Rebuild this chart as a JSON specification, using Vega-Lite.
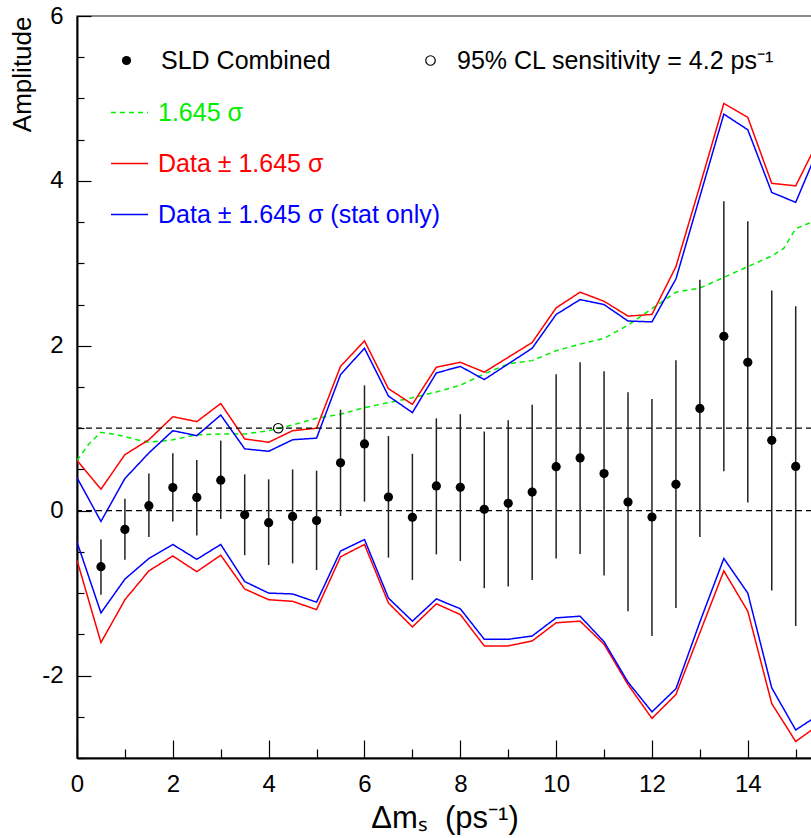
{
  "$schema": "https://vega.github.io/schema/vega-lite/v6.json",
  "description": "SLD combined amplitude spectrum versus delta m_s with 1.645 sigma bands",
  "width": 735,
  "height": 742,
  "autosize": {"type": "none"},
  "padding": {"left": 77, "top": 16, "right": 0, "bottom": 80},
  "background": "white",
  "config": {
    "view": {"stroke": "#666666", "strokeWidth": 1.5},
    "font": "Liberation Sans",
    "axis": {
      "grid": false,
      "labelFont": "Liberation Sans",
      "titleFont": "Liberation Sans",
      "labelColor": "black",
      "titleColor": "black",
      "domainColor": "black",
      "domainWidth": 2,
      "tickColor": "black",
      "tickWidth": 1.2,
      "labelFlush": false,
      "labelOverlap": false,
      "titleFontWeight": "normal"
    },
    "legend": {"labelFont": "Liberation Sans", "labelFontSize": 25, "padding": 0, "labelLimit": 600}
  },
  "datasets": {
    "levels": [{"level": 0}, {"level": 1}],
    "points": [
      {"dms": 0.5, "amp": -0.68, "lo": -1.02, "hi": -0.35},
      {"dms": 1.0, "amp": -0.227, "lo": -0.595, "hi": 0.145},
      {"dms": 1.5, "amp": 0.06, "lo": -0.32, "hi": 0.45},
      {"dms": 2.0, "amp": 0.28, "lo": -0.13, "hi": 0.695},
      {"dms": 2.5, "amp": 0.16, "lo": -0.30, "hi": 0.614},
      {"dms": 3.0, "amp": 0.37, "lo": -0.10, "hi": 0.85},
      {"dms": 3.5, "amp": -0.05, "lo": -0.54, "hi": 0.44},
      {"dms": 4.0, "amp": -0.146, "lo": -0.66, "hi": 0.38},
      {"dms": 4.5, "amp": -0.07, "lo": -0.64, "hi": 0.50},
      {"dms": 5.0, "amp": -0.12, "lo": -0.72, "hi": 0.485},
      {"dms": 5.5, "amp": 0.58, "lo": -0.065, "hi": 1.225},
      {"dms": 6.0, "amp": 0.81, "lo": 0.11, "hi": 1.52},
      {"dms": 6.5, "amp": 0.165, "lo": -0.57, "hi": 0.905},
      {"dms": 7.0, "amp": -0.08, "lo": -0.84, "hi": 0.69},
      {"dms": 7.5, "amp": 0.30, "lo": -0.53, "hi": 1.12},
      {"dms": 8.0, "amp": 0.283, "lo": -0.61, "hi": 1.17},
      {"dms": 8.5, "amp": 0.016, "lo": -0.94, "hi": 0.96},
      {"dms": 9.0, "amp": 0.089, "lo": -0.92, "hi": 1.096},
      {"dms": 9.5, "amp": 0.226, "lo": -0.84, "hi": 1.286},
      {"dms": 10.0, "amp": 0.534, "lo": -0.58, "hi": 1.654},
      {"dms": 10.5, "amp": 0.64, "lo": -0.527, "hi": 1.80},
      {"dms": 11.0, "amp": 0.45, "lo": -0.785, "hi": 1.69},
      {"dms": 11.5, "amp": 0.105, "lo": -1.22, "hi": 1.435},
      {"dms": 12.0, "amp": -0.077, "lo": -1.52, "hi": 1.355},
      {"dms": 12.5, "amp": 0.32, "lo": -1.18, "hi": 1.824},
      {"dms": 13.0, "amp": 1.24, "lo": -0.32, "hi": 2.80},
      {"dms": 13.5, "amp": 2.115, "lo": 0.477, "hi": 3.754},
      {"dms": 14.0, "amp": 1.80, "lo": 0.10, "hi": 3.51},
      {"dms": 14.5, "amp": 0.853, "lo": -0.967, "hi": 2.67},
      {"dms": 15.0, "amp": 0.537, "lo": -1.40, "hi": 2.48}
    ],
    "sensitivity": [{"dms": 4.2, "amp": 1.0}],
    "bands": [
      {"dms": 0, "v": 0.61, "series": "1.645 σ", "side": "up"},
      {"dms": 0.25, "v": 0.81, "series": "1.645 σ", "side": "up"},
      {"dms": 0.5, "v": 0.95, "series": "1.645 σ", "side": "up"},
      {"dms": 0.75, "v": 0.93, "series": "1.645 σ", "side": "up"},
      {"dms": 1.0, "v": 0.90, "series": "1.645 σ", "side": "up"},
      {"dms": 1.25, "v": 0.86, "series": "1.645 σ", "side": "up"},
      {"dms": 1.5, "v": 0.83, "series": "1.645 σ", "side": "up"},
      {"dms": 2.0, "v": 0.86, "series": "1.645 σ", "side": "up"},
      {"dms": 2.5, "v": 0.92, "series": "1.645 σ", "side": "up"},
      {"dms": 3.0, "v": 0.93, "series": "1.645 σ", "side": "up"},
      {"dms": 3.5, "v": 0.93, "series": "1.645 σ", "side": "up"},
      {"dms": 4.0, "v": 0.97, "series": "1.645 σ", "side": "up"},
      {"dms": 4.5, "v": 1.04, "series": "1.645 σ", "side": "up"},
      {"dms": 5.0, "v": 1.12, "series": "1.645 σ", "side": "up"},
      {"dms": 5.5, "v": 1.17, "series": "1.645 σ", "side": "up"},
      {"dms": 6.0, "v": 1.25, "series": "1.645 σ", "side": "up"},
      {"dms": 6.5, "v": 1.31, "series": "1.645 σ", "side": "up"},
      {"dms": 7.0, "v": 1.37, "series": "1.645 σ", "side": "up"},
      {"dms": 7.5, "v": 1.44, "series": "1.645 σ", "side": "up"},
      {"dms": 8.0, "v": 1.52, "series": "1.645 σ", "side": "up"},
      {"dms": 8.5, "v": 1.66, "series": "1.645 σ", "side": "up"},
      {"dms": 9.0, "v": 1.78, "series": "1.645 σ", "side": "up"},
      {"dms": 9.5, "v": 1.82, "series": "1.645 σ", "side": "up"},
      {"dms": 10.0, "v": 1.94, "series": "1.645 σ", "side": "up"},
      {"dms": 10.5, "v": 2.02, "series": "1.645 σ", "side": "up"},
      {"dms": 11.0, "v": 2.09, "series": "1.645 σ", "side": "up"},
      {"dms": 11.5, "v": 2.25, "series": "1.645 σ", "side": "up"},
      {"dms": 12.0, "v": 2.45, "series": "1.645 σ", "side": "up"},
      {"dms": 12.5, "v": 2.65, "series": "1.645 σ", "side": "up"},
      {"dms": 13.0, "v": 2.70, "series": "1.645 σ", "side": "up"},
      {"dms": 13.5, "v": 2.83, "series": "1.645 σ", "side": "up"},
      {"dms": 14.0, "v": 2.96, "series": "1.645 σ", "side": "up"},
      {"dms": 14.5, "v": 3.09, "series": "1.645 σ", "side": "up"},
      {"dms": 14.75, "v": 3.18, "series": "1.645 σ", "side": "up"},
      {"dms": 15.0, "v": 3.42, "series": "1.645 σ", "side": "up"},
      {"dms": 15.5, "v": 3.54, "series": "1.645 σ", "side": "up"},

      {"dms": 0, "v": 0.61, "series": "Data ± 1.645 σ", "side": "up"},
      {"dms": 0.5, "v": 0.26, "series": "Data ± 1.645 σ", "side": "up"},
      {"dms": 1.0, "v": 0.68, "series": "Data ± 1.645 σ", "side": "up"},
      {"dms": 1.5, "v": 0.86, "series": "Data ± 1.645 σ", "side": "up"},
      {"dms": 2.0, "v": 1.14, "series": "Data ± 1.645 σ", "side": "up"},
      {"dms": 2.5, "v": 1.08, "series": "Data ± 1.645 σ", "side": "up"},
      {"dms": 3.0, "v": 1.30, "series": "Data ± 1.645 σ", "side": "up"},
      {"dms": 3.5, "v": 0.87, "series": "Data ± 1.645 σ", "side": "up"},
      {"dms": 4.0, "v": 0.83, "series": "Data ± 1.645 σ", "side": "up"},
      {"dms": 4.5, "v": 0.97, "series": "Data ± 1.645 σ", "side": "up"},
      {"dms": 5.0, "v": 1.00, "series": "Data ± 1.645 σ", "side": "up"},
      {"dms": 5.5, "v": 1.75, "series": "Data ± 1.645 σ", "side": "up"},
      {"dms": 6.0, "v": 2.06, "series": "Data ± 1.645 σ", "side": "up"},
      {"dms": 6.5, "v": 1.48, "series": "Data ± 1.645 σ", "side": "up"},
      {"dms": 7.0, "v": 1.29, "series": "Data ± 1.645 σ", "side": "up"},
      {"dms": 7.5, "v": 1.74, "series": "Data ± 1.645 σ", "side": "up"},
      {"dms": 8.0, "v": 1.80, "series": "Data ± 1.645 σ", "side": "up"},
      {"dms": 8.5, "v": 1.68, "series": "Data ± 1.645 σ", "side": "up"},
      {"dms": 9.0, "v": 1.86, "series": "Data ± 1.645 σ", "side": "up"},
      {"dms": 9.5, "v": 2.04, "series": "Data ± 1.645 σ", "side": "up"},
      {"dms": 10.0, "v": 2.46, "series": "Data ± 1.645 σ", "side": "up"},
      {"dms": 10.5, "v": 2.65, "series": "Data ± 1.645 σ", "side": "up"},
      {"dms": 11.0, "v": 2.54, "series": "Data ± 1.645 σ", "side": "up"},
      {"dms": 11.5, "v": 2.36, "series": "Data ± 1.645 σ", "side": "up"},
      {"dms": 12.0, "v": 2.38, "series": "Data ± 1.645 σ", "side": "up"},
      {"dms": 12.5, "v": 2.96, "series": "Data ± 1.645 σ", "side": "up"},
      {"dms": 13.0, "v": 3.94, "series": "Data ± 1.645 σ", "side": "up"},
      {"dms": 13.5, "v": 4.94, "series": "Data ± 1.645 σ", "side": "up"},
      {"dms": 14.0, "v": 4.77, "series": "Data ± 1.645 σ", "side": "up"},
      {"dms": 14.5, "v": 3.97, "series": "Data ± 1.645 σ", "side": "up"},
      {"dms": 15.0, "v": 3.94, "series": "Data ± 1.645 σ", "side": "up"},
      {"dms": 15.5, "v": 4.52, "series": "Data ± 1.645 σ", "side": "up"},

      {"dms": 0, "v": -0.60, "series": "Data ± 1.645 σ", "side": "low"},
      {"dms": 0.5, "v": -1.60, "series": "Data ± 1.645 σ", "side": "low"},
      {"dms": 1.0, "v": -1.08, "series": "Data ± 1.645 σ", "side": "low"},
      {"dms": 1.5, "v": -0.73, "series": "Data ± 1.645 σ", "side": "low"},
      {"dms": 2.0, "v": -0.55, "series": "Data ± 1.645 σ", "side": "low"},
      {"dms": 2.5, "v": -0.74, "series": "Data ± 1.645 σ", "side": "low"},
      {"dms": 3.0, "v": -0.54, "series": "Data ± 1.645 σ", "side": "low"},
      {"dms": 3.5, "v": -0.95, "series": "Data ± 1.645 σ", "side": "low"},
      {"dms": 4.0, "v": -1.08, "series": "Data ± 1.645 σ", "side": "low"},
      {"dms": 4.5, "v": -1.10, "series": "Data ± 1.645 σ", "side": "low"},
      {"dms": 5.0, "v": -1.20, "series": "Data ± 1.645 σ", "side": "low"},
      {"dms": 5.5, "v": -0.56, "series": "Data ± 1.645 σ", "side": "low"},
      {"dms": 6.0, "v": -0.41, "series": "Data ± 1.645 σ", "side": "low"},
      {"dms": 6.5, "v": -1.12, "series": "Data ± 1.645 σ", "side": "low"},
      {"dms": 7.0, "v": -1.41, "series": "Data ± 1.645 σ", "side": "low"},
      {"dms": 7.5, "v": -1.13, "series": "Data ± 1.645 σ", "side": "low"},
      {"dms": 8.0, "v": -1.26, "series": "Data ± 1.645 σ", "side": "low"},
      {"dms": 8.5, "v": -1.64, "series": "Data ± 1.645 σ", "side": "low"},
      {"dms": 9.0, "v": -1.64, "series": "Data ± 1.645 σ", "side": "low"},
      {"dms": 9.5, "v": -1.58, "series": "Data ± 1.645 σ", "side": "low"},
      {"dms": 10.0, "v": -1.36, "series": "Data ± 1.645 σ", "side": "low"},
      {"dms": 10.5, "v": -1.34, "series": "Data ± 1.645 σ", "side": "low"},
      {"dms": 11.0, "v": -1.62, "series": "Data ± 1.645 σ", "side": "low"},
      {"dms": 11.5, "v": -2.11, "series": "Data ± 1.645 σ", "side": "low"},
      {"dms": 12.0, "v": -2.52, "series": "Data ± 1.645 σ", "side": "low"},
      {"dms": 12.5, "v": -2.23, "series": "Data ± 1.645 σ", "side": "low"},
      {"dms": 13.0, "v": -1.48, "series": "Data ± 1.645 σ", "side": "low"},
      {"dms": 13.5, "v": -0.73, "series": "Data ± 1.645 σ", "side": "low"},
      {"dms": 14.0, "v": -1.22, "series": "Data ± 1.645 σ", "side": "low"},
      {"dms": 14.5, "v": -2.34, "series": "Data ± 1.645 σ", "side": "low"},
      {"dms": 15.0, "v": -2.80, "series": "Data ± 1.645 σ", "side": "low"},
      {"dms": 15.5, "v": -2.59, "series": "Data ± 1.645 σ", "side": "low"},

      {"dms": 0, "v": 0.40, "series": "Data ± 1.645 σ (stat only)", "side": "up"},
      {"dms": 0.5, "v": -0.13, "series": "Data ± 1.645 σ (stat only)", "side": "up"},
      {"dms": 1.0, "v": 0.39, "series": "Data ± 1.645 σ (stat only)", "side": "up"},
      {"dms": 1.5, "v": 0.70, "series": "Data ± 1.645 σ (stat only)", "side": "up"},
      {"dms": 2.0, "v": 0.97, "series": "Data ± 1.645 σ (stat only)", "side": "up"},
      {"dms": 2.5, "v": 0.91, "series": "Data ± 1.645 σ (stat only)", "side": "up"},
      {"dms": 3.0, "v": 1.16, "series": "Data ± 1.645 σ (stat only)", "side": "up"},
      {"dms": 3.5, "v": 0.75, "series": "Data ± 1.645 σ (stat only)", "side": "up"},
      {"dms": 4.0, "v": 0.72, "series": "Data ± 1.645 σ (stat only)", "side": "up"},
      {"dms": 4.5, "v": 0.86, "series": "Data ± 1.645 σ (stat only)", "side": "up"},
      {"dms": 5.0, "v": 0.88, "series": "Data ± 1.645 σ (stat only)", "side": "up"},
      {"dms": 5.5, "v": 1.65, "series": "Data ± 1.645 σ (stat only)", "side": "up"},
      {"dms": 6.0, "v": 1.97, "series": "Data ± 1.645 σ (stat only)", "side": "up"},
      {"dms": 6.5, "v": 1.39, "series": "Data ± 1.645 σ (stat only)", "side": "up"},
      {"dms": 7.0, "v": 1.19, "series": "Data ± 1.645 σ (stat only)", "side": "up"},
      {"dms": 7.5, "v": 1.67, "series": "Data ± 1.645 σ (stat only)", "side": "up"},
      {"dms": 8.0, "v": 1.75, "series": "Data ± 1.645 σ (stat only)", "side": "up"},
      {"dms": 8.5, "v": 1.59, "series": "Data ± 1.645 σ (stat only)", "side": "up"},
      {"dms": 9.0, "v": 1.78, "series": "Data ± 1.645 σ (stat only)", "side": "up"},
      {"dms": 9.5, "v": 1.97, "series": "Data ± 1.645 σ (stat only)", "side": "up"},
      {"dms": 10.0, "v": 2.38, "series": "Data ± 1.645 σ (stat only)", "side": "up"},
      {"dms": 10.5, "v": 2.56, "series": "Data ± 1.645 σ (stat only)", "side": "up"},
      {"dms": 11.0, "v": 2.50, "series": "Data ± 1.645 σ (stat only)", "side": "up"},
      {"dms": 11.5, "v": 2.30, "series": "Data ± 1.645 σ (stat only)", "side": "up"},
      {"dms": 12.0, "v": 2.29, "series": "Data ± 1.645 σ (stat only)", "side": "up"},
      {"dms": 12.5, "v": 2.81, "series": "Data ± 1.645 σ (stat only)", "side": "up"},
      {"dms": 13.0, "v": 3.81, "series": "Data ± 1.645 σ (stat only)", "side": "up"},
      {"dms": 13.5, "v": 4.81, "series": "Data ± 1.645 σ (stat only)", "side": "up"},
      {"dms": 14.0, "v": 4.62, "series": "Data ± 1.645 σ (stat only)", "side": "up"},
      {"dms": 14.5, "v": 3.86, "series": "Data ± 1.645 σ (stat only)", "side": "up"},
      {"dms": 15.0, "v": 3.74, "series": "Data ± 1.645 σ (stat only)", "side": "up"},
      {"dms": 15.5, "v": 4.43, "series": "Data ± 1.645 σ (stat only)", "side": "up"},

      {"dms": 0, "v": -0.38, "series": "Data ± 1.645 σ (stat only)", "side": "low"},
      {"dms": 0.5, "v": -1.24, "series": "Data ± 1.645 σ (stat only)", "side": "low"},
      {"dms": 1.0, "v": -0.83, "series": "Data ± 1.645 σ (stat only)", "side": "low"},
      {"dms": 1.5, "v": -0.58, "series": "Data ± 1.645 σ (stat only)", "side": "low"},
      {"dms": 2.0, "v": -0.41, "series": "Data ± 1.645 σ (stat only)", "side": "low"},
      {"dms": 2.5, "v": -0.59, "series": "Data ± 1.645 σ (stat only)", "side": "low"},
      {"dms": 3.0, "v": -0.41, "series": "Data ± 1.645 σ (stat only)", "side": "low"},
      {"dms": 3.5, "v": -0.86, "series": "Data ± 1.645 σ (stat only)", "side": "low"},
      {"dms": 4.0, "v": -1.00, "series": "Data ± 1.645 σ (stat only)", "side": "low"},
      {"dms": 4.5, "v": -1.01, "series": "Data ± 1.645 σ (stat only)", "side": "low"},
      {"dms": 5.0, "v": -1.11, "series": "Data ± 1.645 σ (stat only)", "side": "low"},
      {"dms": 5.5, "v": -0.49, "series": "Data ± 1.645 σ (stat only)", "side": "low"},
      {"dms": 6.0, "v": -0.35, "series": "Data ± 1.645 σ (stat only)", "side": "low"},
      {"dms": 6.5, "v": -1.06, "series": "Data ± 1.645 σ (stat only)", "side": "low"},
      {"dms": 7.0, "v": -1.34, "series": "Data ± 1.645 σ (stat only)", "side": "low"},
      {"dms": 7.5, "v": -1.07, "series": "Data ± 1.645 σ (stat only)", "side": "low"},
      {"dms": 8.0, "v": -1.19, "series": "Data ± 1.645 σ (stat only)", "side": "low"},
      {"dms": 8.5, "v": -1.56, "series": "Data ± 1.645 σ (stat only)", "side": "low"},
      {"dms": 9.0, "v": -1.56, "series": "Data ± 1.645 σ (stat only)", "side": "low"},
      {"dms": 9.5, "v": -1.52, "series": "Data ± 1.645 σ (stat only)", "side": "low"},
      {"dms": 10.0, "v": -1.30, "series": "Data ± 1.645 σ (stat only)", "side": "low"},
      {"dms": 10.5, "v": -1.28, "series": "Data ± 1.645 σ (stat only)", "side": "low"},
      {"dms": 11.0, "v": -1.59, "series": "Data ± 1.645 σ (stat only)", "side": "low"},
      {"dms": 11.5, "v": -2.08, "series": "Data ± 1.645 σ (stat only)", "side": "low"},
      {"dms": 12.0, "v": -2.44, "series": "Data ± 1.645 σ (stat only)", "side": "low"},
      {"dms": 12.5, "v": -2.16, "series": "Data ± 1.645 σ (stat only)", "side": "low"},
      {"dms": 13.0, "v": -1.35, "series": "Data ± 1.645 σ (stat only)", "side": "low"},
      {"dms": 13.5, "v": -0.58, "series": "Data ± 1.645 σ (stat only)", "side": "low"},
      {"dms": 14.0, "v": -1.00, "series": "Data ± 1.645 σ (stat only)", "side": "low"},
      {"dms": 14.5, "v": -2.15, "series": "Data ± 1.645 σ (stat only)", "side": "low"},
      {"dms": 15.0, "v": -2.66, "series": "Data ± 1.645 σ (stat only)", "side": "low"},
      {"dms": 15.5, "v": -2.47, "series": "Data ± 1.645 σ (stat only)", "side": "low"}
    ]
  },
  "layer": [
    {
      "data": {"name": "bands"},
      "mark": {"type": "line", "clip": true, "strokeWidth": 1.5},
      "encoding": {
        "x": {
          "field": "dms",
          "type": "quantitative",
          "scale": {"domain": [0, 15.34], "nice": false, "zero": false},
          "axis": {
            "values": [0, 0.5, 1, 1.5, 2, 2.5, 3, 3.5, 4, 4.5, 5, 5.5, 6, 6.5, 7, 7.5, 8, 8.5, 9, 9.5, 10, 10.5, 11, 11.5, 12, 12.5, 13, 13.5, 14, 14.5, 15],
            "labelExpr": "datum.value % 2 === 0 ? '' + datum.value : ''",
            "tickSize": {"condition": {"test": "datum.value % 2 === 0", "value": -18}, "value": -9},
            "labelFontSize": 24,
            "labelPadding": 32,
            "title": "Δmₛ\u00a0 (ps⁻¹)",
            "titleFontSize": 31,
            "titleY": 69,
            "titleBaseline": "alphabetic"
          }
        },
        "y": {
          "field": "v",
          "type": "quantitative",
          "scale": {"domain": [-3, 6], "nice": false, "zero": false},
          "axis": {
            "values": [-3, -2.5, -2, -1.5, -1, -0.5, 0, 0.5, 1, 1.5, 2, 2.5, 3, 3.5, 4, 4.5, 5, 5.5, 6],
            "labelExpr": "datum.value % 2 === 0 ? '' + datum.value : ''",
            "tickSize": {"condition": {"test": "datum.value % 2 === 0", "value": -14}, "value": -7},
            "labelFontSize": 24,
            "labelPadding": 28,
            "title": "Amplitude",
            "titleFontSize": 26,
            "titleAngle": 270,
            "titleAlign": "right",
            "titleBaseline": "alphabetic",
            "titleX": -47,
            "titleY": 0
          }
        },
        "color": {
          "field": "series",
          "type": "nominal",
          "scale": {
            "domain": ["1.645 σ", "Data ± 1.645 σ", "Data ± 1.645 σ (stat only)"],
            "range": ["#00ee00", "#ff0000", "#0000ff"]
          },
          "legend": {
            "orient": "none",
            "legendX": 33,
            "legendY": 77,
            "title": null,
            "symbolType": "stroke",
            "symbolSize": 1369,
            "symbolStrokeWidth": 1.5,
            "rowPadding": 18,
            "labelOffset": 9,
            "labelFontSize": 25,
            "labelExpr": "datum.value === '1.645 σ' ? datum.label : '\u00a0' + datum.label",
            "labelColor": {"expr": "datum.value === '1.645 σ' ? '#00ee00' : datum.value === 'Data ± 1.645 σ' ? '#ff0000' : '#0000ff'"}
          }
        },
        "strokeDash": {
          "field": "series",
          "type": "nominal",
          "scale": {
            "domain": ["1.645 σ", "Data ± 1.645 σ", "Data ± 1.645 σ (stat only)"],
            "range": [[5, 4], [1, 0], [1, 0]]
          },
          "legend": {
            "orient": "none",
            "legendX": 33,
            "legendY": 77,
            "title": null,
            "symbolType": "stroke",
            "symbolSize": 1369,
            "symbolStrokeWidth": 1.5,
            "rowPadding": 18,
            "labelOffset": 9,
            "labelFontSize": 25,
            "labelExpr": "datum.value === '1.645 σ' ? datum.label : '\u00a0' + datum.label",
            "labelColor": {"expr": "datum.value === '1.645 σ' ? '#00ee00' : datum.value === 'Data ± 1.645 σ' ? '#ff0000' : '#0000ff'"}
          }
        },
        "detail": {"field": "side"}
      }
    },
    {
      "data": {"name": "levels"},
      "mark": {"type": "rule", "color": "black", "strokeWidth": 1.2, "strokeDash": [6, 4]},
      "encoding": {"y": {"field": "level", "type": "quantitative"}}
    },
    {
      "data": {"name": "points"},
      "mark": {"type": "rule", "color": "#222222", "strokeWidth": 1.5},
      "encoding": {
        "x": {"field": "dms", "type": "quantitative"},
        "y": {"field": "lo", "type": "quantitative"},
        "y2": {"field": "hi"}
      }
    },
    {
      "data": {"name": "points"},
      "mark": {"type": "point", "filled": true, "color": "black", "size": 85, "opacity": 1},
      "encoding": {
        "x": {"field": "dms", "type": "quantitative"},
        "y": {"field": "amp", "type": "quantitative"},
        "shape": {
          "datum": "SLD Combined",
          "type": "nominal",
          "scale": {"range": ["circle"]},
          "legend": {
            "orient": "none",
            "legendX": 37,
            "legendY": 32,
            "title": null,
            "symbolSize": 85,
            "symbolFillColor": "black",
            "symbolStrokeColor": "black",
            "labelOffset": 22,
            "labelFontSize": 25,
            "labelColor": "black"
          }
        }
      }
    },
    {
      "data": {"name": "sensitivity"},
      "mark": {"type": "point", "filled": false, "strokeWidth": 1.2, "size": 90, "opacity": 1},
      "encoding": {
        "x": {"field": "dms", "type": "quantitative"},
        "y": {"field": "amp", "type": "quantitative"},
        "stroke": {
          "datum": "95% CL sensitivity = 4.2 ps⁻¹",
          "type": "nominal",
          "scale": {"range": ["black"]},
          "legend": {
            "orient": "none",
            "legendX": 341,
            "legendY": 32,
            "title": null,
            "symbolType": "circle",
            "symbolSize": 90,
            "symbolStrokeWidth": 1.2,
            "labelOffset": 14,
            "labelFontSize": 25,
            "labelColor": "black"
          }
        }
      }
    }
  ]
}
